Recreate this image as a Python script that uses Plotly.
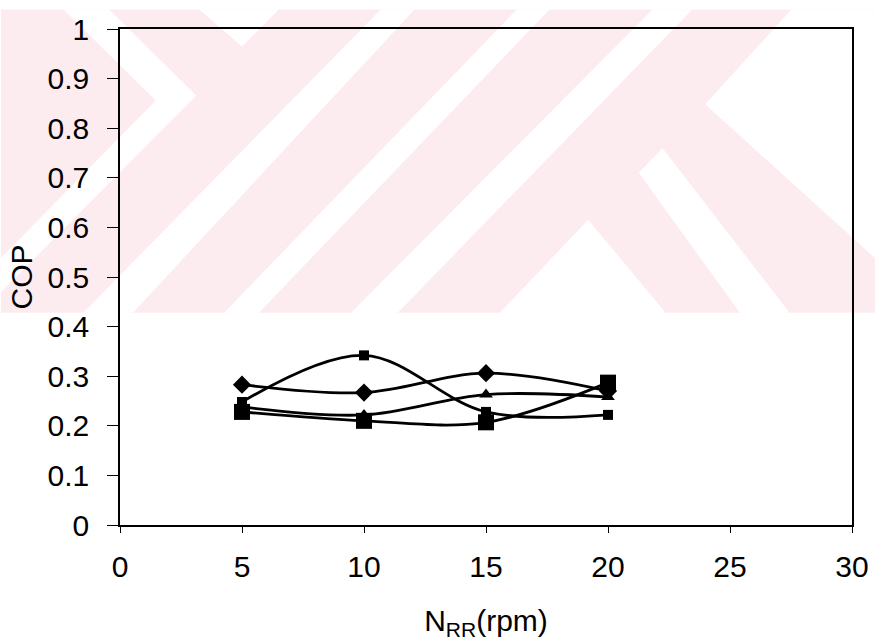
import plotly.graph_objects as go

# Rotor speed (rpm) and measured COP for each test series
speed_rpm = [5, 10, 15, 20]
cop_diamond = [0.283, 0.267, 0.306, 0.270]
cop_small_square = [0.248, 0.342, 0.228, 0.222]
cop_triangle = [0.238, 0.222, 0.263, 0.258]
cop_big_square = [0.228, 0.210, 0.207, 0.287]

x_ticks = [0, 5, 10, 15, 20, 25, 30]
y_ticks = [0, 0.1, 0.2, 0.3, 0.4, 0.5, 0.6, 0.7, 0.8, 0.9, 1]
y_tick_text = ["0", "0.1", "0.2", "0.3", "0.4", "0.5", "0.6", "0.7", "0.8", "0.9", "1"]

W, H = 881, 644
L, R, T, B = 120, 23, 20, 117
PW, PH = W - L - R, H - T - B

FONT = "Liberation Sans, Arial, sans-serif"
PINK = "#fdecef"


def to_paper(px, py):
    return (px - L) / PW, (H - B - py) / PH


def poly_path(points):
    pts = [to_paper(px, py) for px, py in points]
    return "M " + " L ".join(f"{x:.4f},{y:.4f}" for x, y in pts) + " Z"


# Light background emblem in the upper part of the page
band_top = 310
pink_base = [(0, 0), (W, 0), (W, band_top), (0, band_top)]
white_cuts = [
    [(63, 0), (109, 0), (197, 88), (0, 289), (0, 254), (156, 93)],
    [(200, 0), (280, 0), (243, 38)],
    [(383, 0), (417, 0), (133, band_top), (83, band_top)],
    [(520, 0), (553, 0), (260, band_top), (225, band_top)],
    [(657, 0), (697, 0), (400, band_top), (353, band_top)],
    [(797, 0), (W, 0), (W, 254), (710, 97)],
    [(643, 167), (667, 142), (795, band_top), (745, band_top)],
    [(503, band_top), (592, 215), (670, band_top)],
]

shapes = [dict(type="path", xref="paper", yref="paper", path=poly_path(pink_base),
               fillcolor=PINK, line=dict(width=0), layer="below")]
for cut in white_cuts:
    shapes.append(dict(type="path", xref="paper", yref="paper", path=poly_path(cut),
                       fillcolor="white", line=dict(width=0), layer="below"))

fig = go.Figure()

series = [
    (cop_diamond, "diamond", 14),
    (cop_small_square, "square", 10),
    (cop_triangle, "triangle-up", 12),
    (cop_big_square, "square", 16),
]
for values, symbol, size in series:
    fig.add_trace(go.Scatter(
        x=speed_rpm, y=values, mode="lines+markers",
        line=dict(color="black", width=2.8, shape="spline", smoothing=1.0),
        marker=dict(symbol=symbol, size=size, color="black",
                    line=dict(width=0)),
        showlegend=False, cliponaxis=False,
    ))

fig.update_layout(
    width=W, height=H,
    margin=dict(l=L, r=R, t=T, b=B, pad=0),
    paper_bgcolor="white",
    plot_bgcolor="rgba(0,0,0,0)",
    shapes=shapes,
    font=dict(family=FONT, color="black"),
    xaxis=dict(
        range=[0, 30], tickvals=x_ticks, ticktext=[str(v) for v in x_ticks],
        ticks="outside", ticklen=6, tickwidth=1, tickcolor="black",
        ticklabelstandoff=8,
        showline=True, linecolor="black", linewidth=1.5, mirror=True,
        showgrid=False, zeroline=False,
        tickfont=dict(size=30, family=FONT),
        title=dict(text="N<sub>RR</sub>(rpm)", font=dict(size=30, family=FONT), standoff=28),
    ),
    yaxis=dict(
        range=[0, 1], tickvals=y_ticks, ticktext=y_tick_text,
        ticks="outside", ticklen=11, tickwidth=1, tickcolor="black",
        ticklabelstandoff=12,
        showline=True, linecolor="black", linewidth=1.5, mirror=True,
        showgrid=False, zeroline=False,
        tickfont=dict(size=30, family=FONT),
        title=dict(text="COP", font=dict(size=30, family=FONT), standoff=6),
    ),
)

fig.write_html("out.html")
